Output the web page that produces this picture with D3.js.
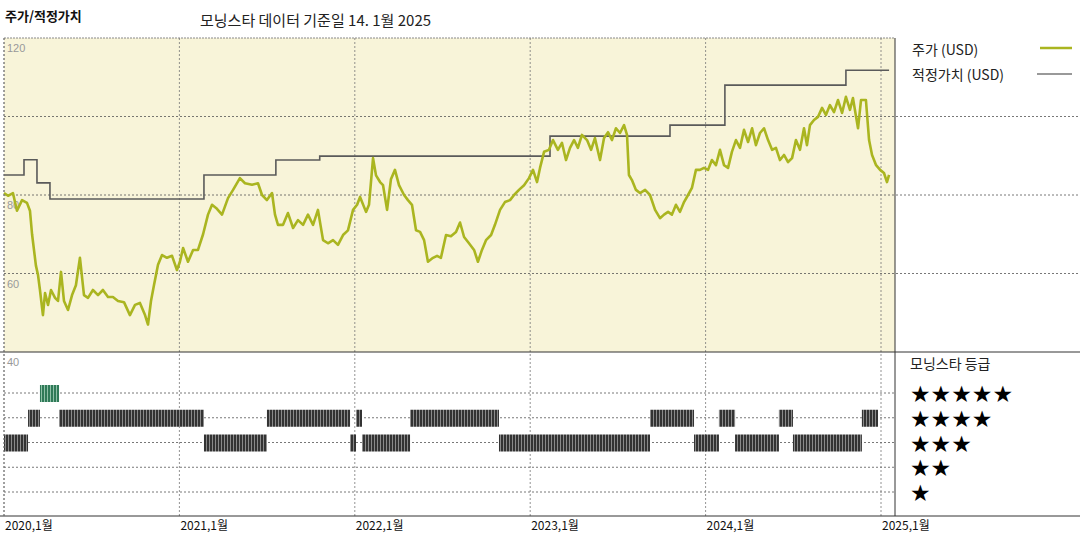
<!DOCTYPE html>
<html><head><meta charset="utf-8">
<script src="https://cdn.jsdelivr.net/npm/d3@7"></script>
<style>
body{margin:0;background:#fff;font-family:"Noto Sans CJK KR","DejaVu Sans",sans-serif;}
</style></head>
<body><div id="chart"></div>
<script>
// time in years since Jan 2020
var yearLabels = ["2020,1월","2021,1월","2022,1월","2023,1월","2024,1월","2025,1월"];
var priceT = [0,.023,.051,.074,.103,.131,.148,.160,.182,.194,.205,.222,.234,.251,.268,.291,.308,.325,.342,.365,.388,.410,.433,.456,.479,.507,.536,.564,.593,.621,.650,.684,.718,.747,.775,.804,.821,.838,.855,.878,.901,.929,.958,.986,1.003,1.021,1.049,1.078,1.106,1.135,1.163,1.186,1.209,1.243,1.277,1.306,1.345,1.374,1.414,1.448,1.471,1.499,1.528,1.545,1.562,1.591,1.619,1.648,1.676,1.705,1.733,1.762,1.790,1.819,1.847,1.876,1.904,1.933,1.961,1.990,2.013,2.030,2.064,2.081,2.104,2.121,2.144,2.161,2.184,2.206,2.229,2.252,2.281,2.303,2.326,2.349,2.372,2.395,2.417,2.446,2.469,2.491,2.520,2.548,2.577,2.600,2.623,2.651,2.680,2.702,2.725,2.748,2.777,2.799,2.828,2.856,2.885,2.908,2.936,2.965,2.993,3.016,3.039,3.056,3.079,3.107,3.130,3.158,3.181,3.204,3.227,3.250,3.272,3.295,3.324,3.347,3.369,3.398,3.421,3.444,3.466,3.489,3.512,3.535,3.552,3.563,3.580,3.603,3.626,3.655,3.683,3.712,3.740,3.763,3.786,3.808,3.831,3.854,3.877,3.900,3.922,3.945,3.968,3.991,4.014,4.036,4.059,4.082,4.105,4.128,4.150,4.173,4.196,4.219,4.242,4.265,4.287,4.310,4.333,4.356,4.379,4.401,4.424,4.447,4.470,4.493,4.515,4.538,4.561,4.578,4.595,4.618,4.641,4.664,4.686,4.709,4.732,4.755,4.778,4.800,4.823,4.840,4.869,4.886,4.914,4.932,4.949,4.972,4.995,5.017,5.034,5.046];
var priceV = [80.5,79.8,80.5,76,78.7,78,76,70,62,59.6,55.8,49.4,55,52,55.8,53.8,53,60.4,53,50.7,54.5,57,64,54.5,53.8,55.8,54.5,55.8,54,54,53,52.7,49.4,52,52.5,49.4,47,53,57,62.2,64.7,64,64.5,60.9,63,66.5,63,66,66,70,75,77.5,76.7,75,79.2,81.3,84.3,83,82.6,83,80,78.7,80.5,75,72.4,72.4,75.4,71.6,73.6,72.4,75,72.4,76.2,68.5,67.7,68.5,67.3,69.8,71,76.2,77.5,79.5,75.7,77.5,89.4,85,83.3,82.5,76.2,84,86.4,82.5,80,78.7,77.5,71,70.6,68.5,63,64,64.5,64,69.8,69.5,70.6,73,69.3,67.7,66,63,66,68.5,69.8,72.4,76.2,78.2,78.7,80,81.3,82.5,84.3,86.4,83.3,86.9,91,91.5,94,91.5,93.3,88.9,92,94,92,95.3,94,91.5,94.5,88.9,94.5,96,94,97,95.8,97.8,95.3,85.1,83.8,81.3,80.5,81.3,80,76.2,74.1,75,75.7,75,77.5,75.7,78.2,80,81.8,86.4,86.4,86.9,86.4,88.9,87.6,91.5,87.6,86.9,91,94,92,96.6,93.5,97,92.7,95.8,97,94,91.5,92,88.9,90.2,88.4,89.4,94,91.5,97,92.7,97.8,99.1,99.9,102.2,100.4,102.9,101.1,104.2,100.9,105,101.7,104.7,97,104.2,104.2,94,90.2,87.6,86.4,85.6,83.3,85.1];
var fairT = [0,.114,.188,.262,1.14,1.55,1.80,3.113,3.797,4.11,4.80,5.046];
var fairV = [85.1,89.0,83.1,79.0,85.1,88.9,89.9,95.0,97.8,108.0,111.8,111.8];
var ratingStart = [0,.137,.205,.314,1.14,1.499,1.973,2.007,2.041,2.315,2.822,3.683,3.934,4.076,4.168,4.418,4.498,4.891];
var ratingEnd   = [.137,.205,.314,1.14,1.499,1.973,2.007,2.041,2.315,2.822,3.683,3.934,4.076,4.168,4.418,4.498,4.891,4.983];
var ratingStars = [3,4,5,4,3,4,3,4,3,4,3,4,3,4,3,4,3,4];
var yTicks = [120,100,80,60,40];

var W = 1080, H = 540;
var plotLeft = 4, plotRight = 895, plotTop = 38, plotMid = 352, plotBottom = 516;

var svg = d3.select("#chart").append("svg").attr("width", W).attr("height", H);

var defs = svg.append("defs");
function stripes(id, dark, light) {
  var p = defs.append("pattern").attr("id", id).attr("patternUnits", "userSpaceOnUse")
    .attr("width", 3).attr("height", 10);
  p.append("rect").attr("width", 3).attr("height", 10).attr("fill", dark);
  p.append("rect").attr("x", 2).attr("width", 1).attr("height", 10).attr("fill", light);
}
stripes("barDark", "#333", "#8a8a8a");
stripes("barGreen", "#2f7a58", "#8fc0a8");

var x = d3.scaleLinear().domain([0, 5]).range([plotLeft, 881]);
var y = d3.scaleLinear().domain([40, 120]).range([plotMid, plotTop]);
var yStar = d3.scaleLinear().domain([5, 1]).range([393, 492]);

// background of price panel
svg.append("rect").attr("x", plotLeft).attr("y", plotTop).attr("width", plotRight - plotLeft).attr("height", plotMid - plotTop)
  .attr("fill", "#f8f4d9");

// horizontal grid
svg.selectAll(".hg").data([100, 80, 60]).enter().append("line")
  .attr("x1", plotLeft).attr("x2", W).attr("y1", d => y(d)).attr("y2", d => y(d))
  .attr("stroke", "#555").attr("stroke-dasharray", "2,2").attr("stroke-width", 0.8);
svg.append("line").attr("x1", plotLeft).attr("x2", plotRight).attr("y1", plotTop).attr("y2", plotTop)
  .attr("stroke", "#888").attr("stroke-dasharray", "2,1");
svg.selectAll(".sg").data([5, 4, 3, 2, 1]).enter().append("line")
  .attr("x1", plotLeft).attr("x2", plotRight).attr("y1", d => yStar(d)).attr("y2", d => yStar(d))
  .attr("stroke", "#555").attr("stroke-dasharray", "2,2").attr("stroke-width", 0.8);

// vertical year grid
svg.selectAll(".vg").data(d3.range(0, 6)).enter().append("line")
  .attr("x1", d => x(d)).attr("x2", d => x(d)).attr("y1", plotTop).attr("y2", plotBottom)
  .attr("stroke", "#777").attr("stroke-dasharray", "2,2").attr("stroke-width", 0.8);

// rating bars
svg.selectAll(".rb").data(ratingStars).enter().append("rect")
  .attr("x", (d, i) => x(ratingStart[i]))
  .attr("width", (d, i) => x(ratingEnd[i]) - x(ratingStart[i]))
  .attr("y", d => yStar(d) - 8).attr("height", 17)
  .attr("fill", d => d == 5 ? "url(#barGreen)" : "url(#barDark)");

// y tick labels
svg.selectAll(".yl").data(yTicks).enter().append("text")
  .attr("x", 7).attr("y", d => y(d) + 14)
  .attr("font-size", 11).attr("fill", "#999").attr("font-family", "Liberation Sans, sans-serif")
  .text(d => d == 100 ? "" : d);

// lines
var fairPts = fairT.map((t, i) => [t, fairV[i]]);
svg.append("path").datum(fairPts)
  .attr("d", d3.line().x(d => x(d[0])).y(d => y(d[1])).curve(d3.curveStepAfter))
  .attr("fill", "none").attr("stroke", "#5a5a5a").attr("stroke-width", 1.6);

var pricePts = priceT.map((t, i) => [t, priceV[i]]);
svg.append("path").datum(pricePts)
  .attr("d", d3.line().x(d => x(d[0])).y(d => y(d[1])))
  .attr("fill", "none").attr("stroke", "#aab520").attr("stroke-width", 2.6).attr("stroke-linejoin", "round");

// frames
svg.append("line").attr("x1", 0).attr("x2", W).attr("y1", plotMid).attr("y2", plotMid).attr("stroke", "#333");
svg.append("line").attr("x1", 0).attr("x2", W).attr("y1", plotBottom).attr("y2", plotBottom).attr("stroke", "#333");
svg.append("line").attr("x1", plotRight).attr("x2", plotRight).attr("y1", plotTop).attr("y2", plotBottom).attr("stroke", "#333");
svg.append("line").attr("x1", plotLeft).attr("x2", plotLeft).attr("y1", plotTop).attr("y2", plotBottom)
  .attr("stroke", "#777").attr("stroke-dasharray", "2,2");

// x axis labels
svg.selectAll(".xl").data(yearLabels).enter().append("text")
  .attr("x", (d, i) => x(i) + 1).attr("y", 530)
  .attr("font-size", 12).attr("fill", "#111").text(d => d);

// titles
svg.append("text").attr("x", 5).attr("y", 21).attr("font-size", 13).attr("font-weight", "bold")
  .attr("fill", "#111").text("주가/적정가치");
svg.append("text").attr("x", 200).attr("y", 26).attr("font-size", 15).attr("fill", "#222")
  .text("모닝스타 데이터 기준일 14. 1월 2025");

// legend
svg.append("text").attr("x", 912).attr("y", 55).attr("font-size", 14).attr("fill", "#222").text("주가 (USD)");
svg.append("line").attr("x1", 1040).attr("x2", 1072).attr("y1", 48).attr("y2", 48)
  .attr("stroke", "#aab520").attr("stroke-width", 2.5);
svg.append("text").attr("x", 912).attr("y", 80).attr("font-size", 14).attr("fill", "#222").text("적정가치 (USD)");
svg.append("line").attr("x1", 1037).attr("x2", 1072).attr("y1", 74).attr("y2", 74)
  .attr("stroke", "#777").attr("stroke-width", 1.5);

svg.append("text").attr("x", 910).attr("y", 369).attr("font-size", 14).attr("fill", "#222").text("모닝스타 등급");
svg.selectAll(".st").data([5, 4, 3, 2, 1]).enter().append("text")
  .attr("x", 910).attr("y", d => yStar(d) + 9)
  .attr("font-size", 23).attr("fill", "#000").attr("font-family", "DejaVu Sans")
  .text(d => "★".repeat(d));
</script></body></html>
